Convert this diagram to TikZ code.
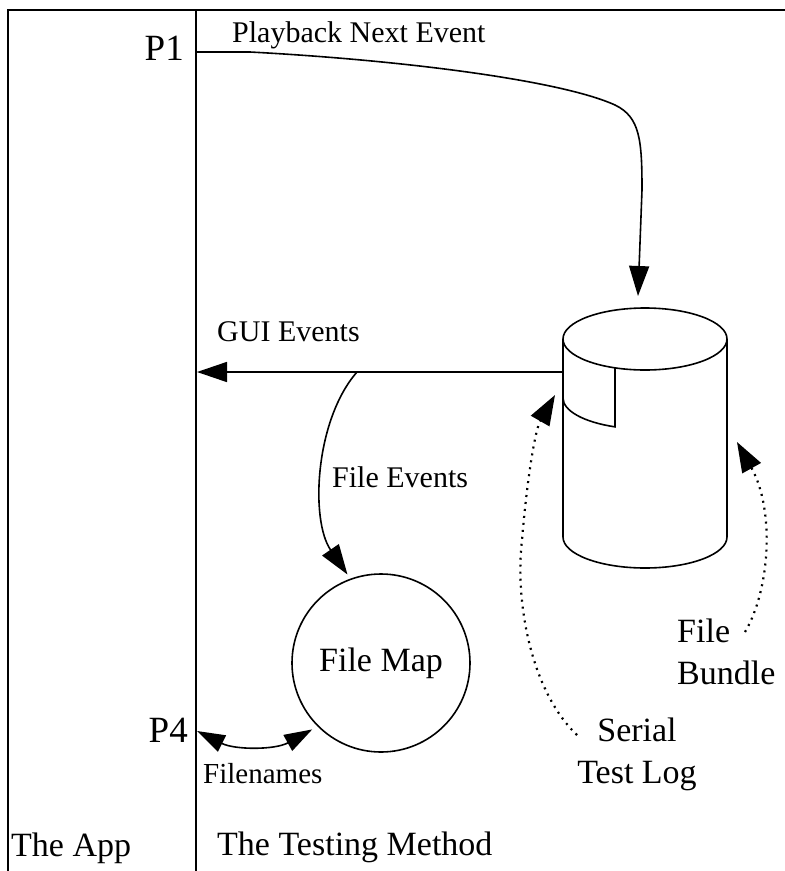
\documentclass[tikz,border=0pt]{standalone}
\usepackage{fontspec}
\setmainfont{Liberation Serif}
\usetikzlibrary{arrows.meta}
\begin{document}
\begin{tikzpicture}[x=1pt, y=-1pt,
  frame/.style={line width=2.4pt},
  solidline/.style={line width=1.6pt},
  conn/.style={line width=1.6pt, -{Triangle[length=30pt,width=20pt]}},
  dots/.style={line width=2.2pt, dash pattern=on 2pt off 5pt,
    -{Triangle[length=30pt,width=21pt]}},
  lbl/.style={inner sep=0pt, font=\fontsize{30pt}{36pt}\selectfont},
  big/.style={inner sep=0pt, font=\fontsize{37pt}{42pt}\selectfont},
  mid/.style={inner sep=0pt, font=\fontsize{34pt}{42pt}\selectfont},
  small/.style={inner sep=0pt, font=\fontsize{29pt}{34pt}\selectfont},
]
\useasboundingbox (0,0) rectangle (785,871);
\fill[white] (0,0) rectangle (785,871);

% outer frame and the divider between the two columns
\draw[frame] (785,10) -- (8,10) -- (8,871);
\draw[frame] (196,10) -- (196,871);

% the log store: a cylinder with a tab on its front
\coordinate (dbc) at (645,339);
\draw[solidline] (563,339) -- (563,537)
  arc[start angle=180, end angle=360, x radius=82pt, y radius=31pt] -- (727,339);
\draw[solidline] (dbc) ellipse [x radius=82pt, y radius=31pt];
\draw[solidline] (563,398)
  arc[start angle=180, end angle=248.5, x radius=82pt, y radius=31pt] -- ++(0,-59);

\coordinate (dbin) at (638,296);
\coordinate (dbl) at (563,372);
\coordinate (logtip) at (555,395);
\coordinate (bundletip) at (737,442);

% labels
\node[big, anchor=base east] (p1) at (184,60) {P1};
\node[lbl, anchor=base west] (play) at (232,42) {Playback Next Event};
\node[lbl, anchor=base west] (gui) at (217,341) {GUI Events};
\node[lbl, anchor=base west] (fev) at (332,487) {File Events};
\node[circle, draw, line width=1.6pt, minimum size=178pt, inner sep=0pt,
      font=\fontsize{34pt}{40pt}\selectfont] (fmap) at (381,663) {File Map};
\node[big, anchor=base east] (p4) at (188,742) {P4};
\node[small, anchor=base west] (fnames) at (203,783) {Filenames};
\node[mid, anchor=base west] (app) at (11,856) {The App};
\node[mid, anchor=base west] (method) at (217,855) {The Testing Method};
\node[mid, align=center, anchor=center] (stlog) at (637,754) {Serial\\Test Log};
\node[mid, align=left, anchor=west] (fbundle) at (677,652) {File\\Bundle};

\coordinate (p1pt) at (196,52);
\coordinate (p4pt) at (197,731);
\coordinate (guiend) at (197,372);
\coordinate (fesrc) at (357,372);
\coordinate (logsrc) at (577,735);
\coordinate (bundlesrc) at (745,632);

% connectors
\draw[conn] (p1pt) -- (250,52) .. controls (400,60) and (560,80) .. (615,105)
  .. controls (640,117) and (642,140) .. (642,190) -- (dbin);
\draw[conn] (dbl) -- (guiend);
\draw[conn, shorten >=5pt] (fesrc) .. controls (315,420) and (310,520) .. (fmap.110);
\draw[solidline, {Triangle[length=28pt,width=18pt]}-{Triangle[length=28pt,width=18pt]},
      shorten >=6pt]
  (p4pt) .. controls (235,750) and (275,750) .. (fmap.225);
\draw[dots] (logsrc) .. controls (530,690) and (515,600) .. (522,540)
  .. controls (527,480) and (535,430) .. (logtip);
\draw[dots] (bundlesrc) .. controls (770,590) and (775,510) .. (bundletip);
\end{tikzpicture}
\end{document}
